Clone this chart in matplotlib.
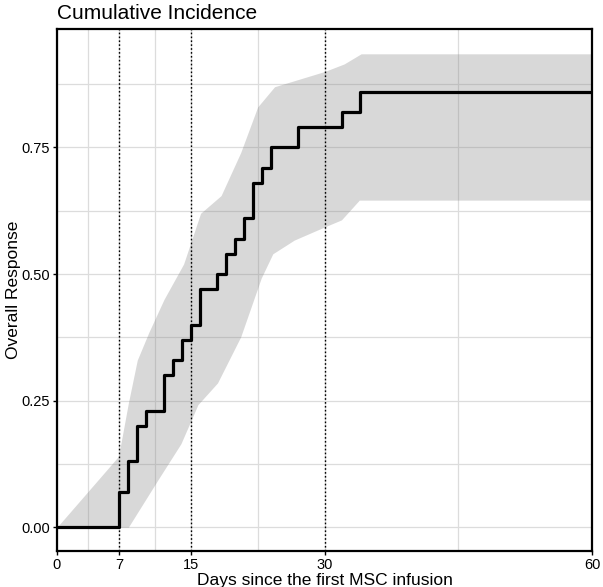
import matplotlib.pyplot as plt
import numpy as np

plt.rcParams['font.family'] = ['Liberation Sans', 'DejaVu Sans']

# step function of cumulative incidence
event_days = [0, 7, 8, 9, 10, 12, 13, 14, 15, 16, 18, 19, 20, 21, 22, 23, 24, 27, 32, 34, 60]
incidence = [0.0, 0.07, 0.13, 0.20, 0.23, 0.30, 0.33, 0.37, 0.40, 0.47, 0.50, 0.54, 0.57,
             0.61, 0.68, 0.71, 0.75, 0.79, 0.82, 0.86, 0.86]

# confidence band edges
upper_days = [0, 6.9, 8.0, 9.0, 10.3, 12.0, 14.2, 16.1, 18.4, 20.6, 22.5, 24.4, 30.0, 32.2, 34.1, 60]
upper_vals = [0.0, 0.14, 0.245, 0.33, 0.385, 0.45, 0.52, 0.62, 0.655, 0.74, 0.83, 0.87, 0.90,
              0.915, 0.935, 0.935]
lower_days = [0, 8.0, 11.3, 13.9, 15.8, 18.0, 20.6, 22.9, 24.2, 26.6, 30.0, 31.9, 33.9, 60]
lower_vals = [0.0, 0.0, 0.093, 0.165, 0.242, 0.285, 0.376, 0.492, 0.54, 0.567, 0.593, 0.607,
              0.646, 0.646]

x_ticks = [0, 7, 15, 30, 60]
x_minor = [3.5, 11, 22.5, 45]
y_ticks = [0, 0.25, 0.5, 0.75]
y_minor = [0.125, 0.375, 0.625, 0.875]
marker_days = [7, 15, 30]

fig = plt.figure(figsize=(6.03, 5.87), dpi=100)
ax = fig.add_axes([0.0945, 0.0613, 0.8873, 0.8893])

grid_x = np.linspace(0, 60, 1201)
up = np.interp(grid_x, upper_days, upper_vals)
lo = np.interp(grid_x, lower_days, lower_vals)
ax.fill_between(grid_x, lo, up, color='grey', alpha=0.3, linewidth=0, zorder=2)

ax.step(event_days, incidence, where='post', color='black', linewidth=2.3, zorder=4)

for d in marker_days:
    ax.axvline(d, color='black', linestyle=(0, (1.2, 1.6)), linewidth=1.0, zorder=3)

ax.set_xlim(0, 60)
ax.set_ylim(-0.047, 0.984)
ax.set_xticks(x_ticks)
ax.set_xticks(x_minor, minor=True)
ax.set_yticks(y_ticks)
ax.set_yticks(y_minor, minor=True)
ax.set_yticklabels(['0.00', '0.25', '0.50', '0.75'])
ax.grid(which='both', color='#dcdcdc', linewidth=0.9, zorder=1)
ax.set_axisbelow(True)
ax.tick_params(which='minor', length=0)
ax.tick_params(which='major', length=3, width=1, color='black', labelsize=10.5,
               labelcolor='black', pad=2)
for s in ax.spines.values():
    s.set_linewidth(1.6)
    s.set_color('black')

ax.set_xlabel('Days since the first MSC infusion', fontsize=12.5, labelpad=1)
ax.set_ylabel('Overall Response', fontsize=12.5)
ax.yaxis.set_label_coords(-0.068, 0.5)
ax.set_title('Cumulative Incidence', fontsize=15, loc='left', pad=7)

fig.savefig('out.png', dpi=100)
